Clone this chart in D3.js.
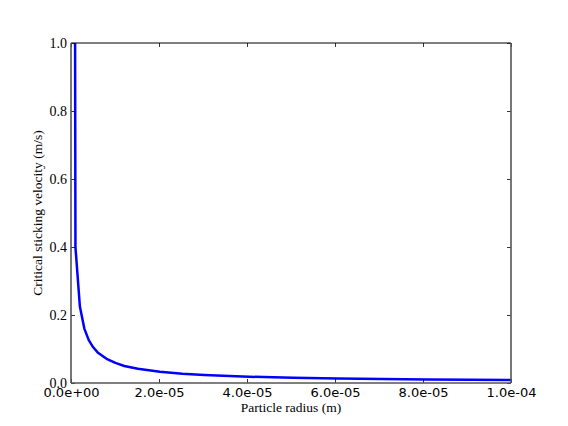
<!DOCTYPE html>
<html>
<head>
<meta charset="utf-8">
<script src="https://cdn.jsdelivr.net/npm/d3@7"></script>
<style>
  body { margin: 0; background: #fff; }
  svg { display: block; }
</style>
</head>
<body>
<div id="chart"></div>
<script>
// particle radius (m) and critical sticking velocity (m/s)
const radius = [0.8e-6, 1.01e-6, 2.02e-6, 3.03e-6, 4.04e-6, 5.05e-6, 6.06e-6, 8.08e-6,
  1.01e-5, 1.21e-5, 1.52e-5, 2.02e-5, 2.53e-5, 3.03e-5, 4.04e-5, 5.05e-5,
  6.06e-5, 7.07e-5, 8.08e-5, 9.09e-5, 1.0e-4]
const velocity = [2.0, 0.400, 0.225, 0.160, 0.126, 0.105, 0.090, 0.071,
  0.059, 0.050, 0.042, 0.033, 0.027, 0.0235, 0.0185, 0.0153,
  0.0132, 0.0116, 0.0104, 0.0094, 0.0087]
const xTicks = [0, 2e-5, 4e-5, 6e-5, 8e-5, 1e-4]
const yTicks = [0, 0.2, 0.4, 0.6, 0.8, 1.0]

const width = 568
const height = 426
const margin = { left: 71, right: 57, top: 43, bottom: 43 }
const plotW = width - margin.left - margin.right
const plotH = height - margin.top - margin.bottom

const svg = d3.select('#chart')
  .append('svg')
  .attr('width', width)
  .attr('height', height)

const x = d3.scaleLinear().domain([0, 1e-4]).range([0, plotW])
const y = d3.scaleLinear().domain([0, 1]).range([plotH, 0])

const g = svg.append('g')
  .attr('transform', 'translate(' + margin.left + ',' + margin.top + ')')

g.append('clipPath').attr('id', 'clip')
  .append('rect').attr('width', plotW).attr('height', plotH)

const pts = radius.map(function (r, i) { return [r, velocity[i]] })
const line = d3.line()
  .x(function (d) { return x(d[0]) })
  .y(function (d) { return y(d[1]) })

g.append('path')
  .datum(pts)
  .attr('clip-path', 'url(#clip)')
  .attr('d', line)
  .attr('fill', 'none')
  .attr('stroke', '#0000ff')
  .attr('stroke-width', 2.5)
  .attr('stroke-linejoin', 'round')

// axes, ticks pointing inward
const serif = 'Liberation Serif, serif'
const sans = 'DejaVu Sans, sans-serif'

const xAxis = g.append('g')
  .attr('transform', 'translate(0,' + plotH + ')')
  .call(d3.axisBottom(x).tickValues(xTicks).tickSizeInner(-4).tickSizeOuter(0)
    .tickPadding(5).tickFormat(function (d) { return d.toExponential(1).replace(/e([+-])(\d)$/, 'e$10$2') }))
xAxis.select('.domain').remove()
xAxis.selectAll('text').attr('font-family', sans).attr('font-size', 13).attr('fill', '#000')

const xTop = g.append('g')
  .call(d3.axisTop(x).tickValues(xTicks).tickSizeInner(-4).tickSizeOuter(0).tickFormat(''))
xTop.select('.domain').remove()

const yAxis = g.append('g')
  .call(d3.axisLeft(y).tickValues(yTicks).tickSizeInner(-4).tickSizeOuter(0)
    .tickPadding(4).tickFormat(d3.format('.1f')))
yAxis.select('.domain').remove()
yAxis.selectAll('text').attr('font-family', serif).attr('font-size', 14).attr('fill', '#000')

const yRight = g.append('g')
  .attr('transform', 'translate(' + plotW + ',0)')
  .call(d3.axisRight(y).tickValues(yTicks).tickSizeInner(-4).tickSizeOuter(0).tickFormat(''))
yRight.select('.domain').remove()

g.selectAll('.tick line').attr('stroke', '#000').attr('stroke-width', 0.8)

// frame
g.append('line').attr('x1', 0).attr('x2', plotW).attr('y1', 0).attr('y2', 0)
  .attr('stroke', '#000').attr('stroke-width', 1.2)
g.append('line').attr('x1', 0).attr('x2', plotW).attr('y1', plotH).attr('y2', plotH)
  .attr('stroke', '#555').attr('stroke-width', 1.6)
g.append('line').attr('x1', 0).attr('x2', 0).attr('y1', 0).attr('y2', plotH)
  .attr('stroke', '#555').attr('stroke-width', 1.6)
g.append('line').attr('x1', plotW).attr('x2', plotW).attr('y1', 0).attr('y2', plotH)
  .attr('stroke', '#555').attr('stroke-width', 1.6)

svg.append('text')
  .attr('x', margin.left + plotW / 2)
  .attr('y', 412)
  .attr('text-anchor', 'middle')
  .attr('font-family', serif)
  .attr('font-size', 13.5)
  .text('Particle radius (m)')

svg.append('text')
  .attr('transform', 'translate(42,' + (margin.top + plotH / 2) + ') rotate(-90)')
  .attr('text-anchor', 'middle')
  .attr('font-family', serif)
  .attr('font-size', 13.5)
  .text('Critical sticking velocity (m/s)')
</script>
</body>
</html>
